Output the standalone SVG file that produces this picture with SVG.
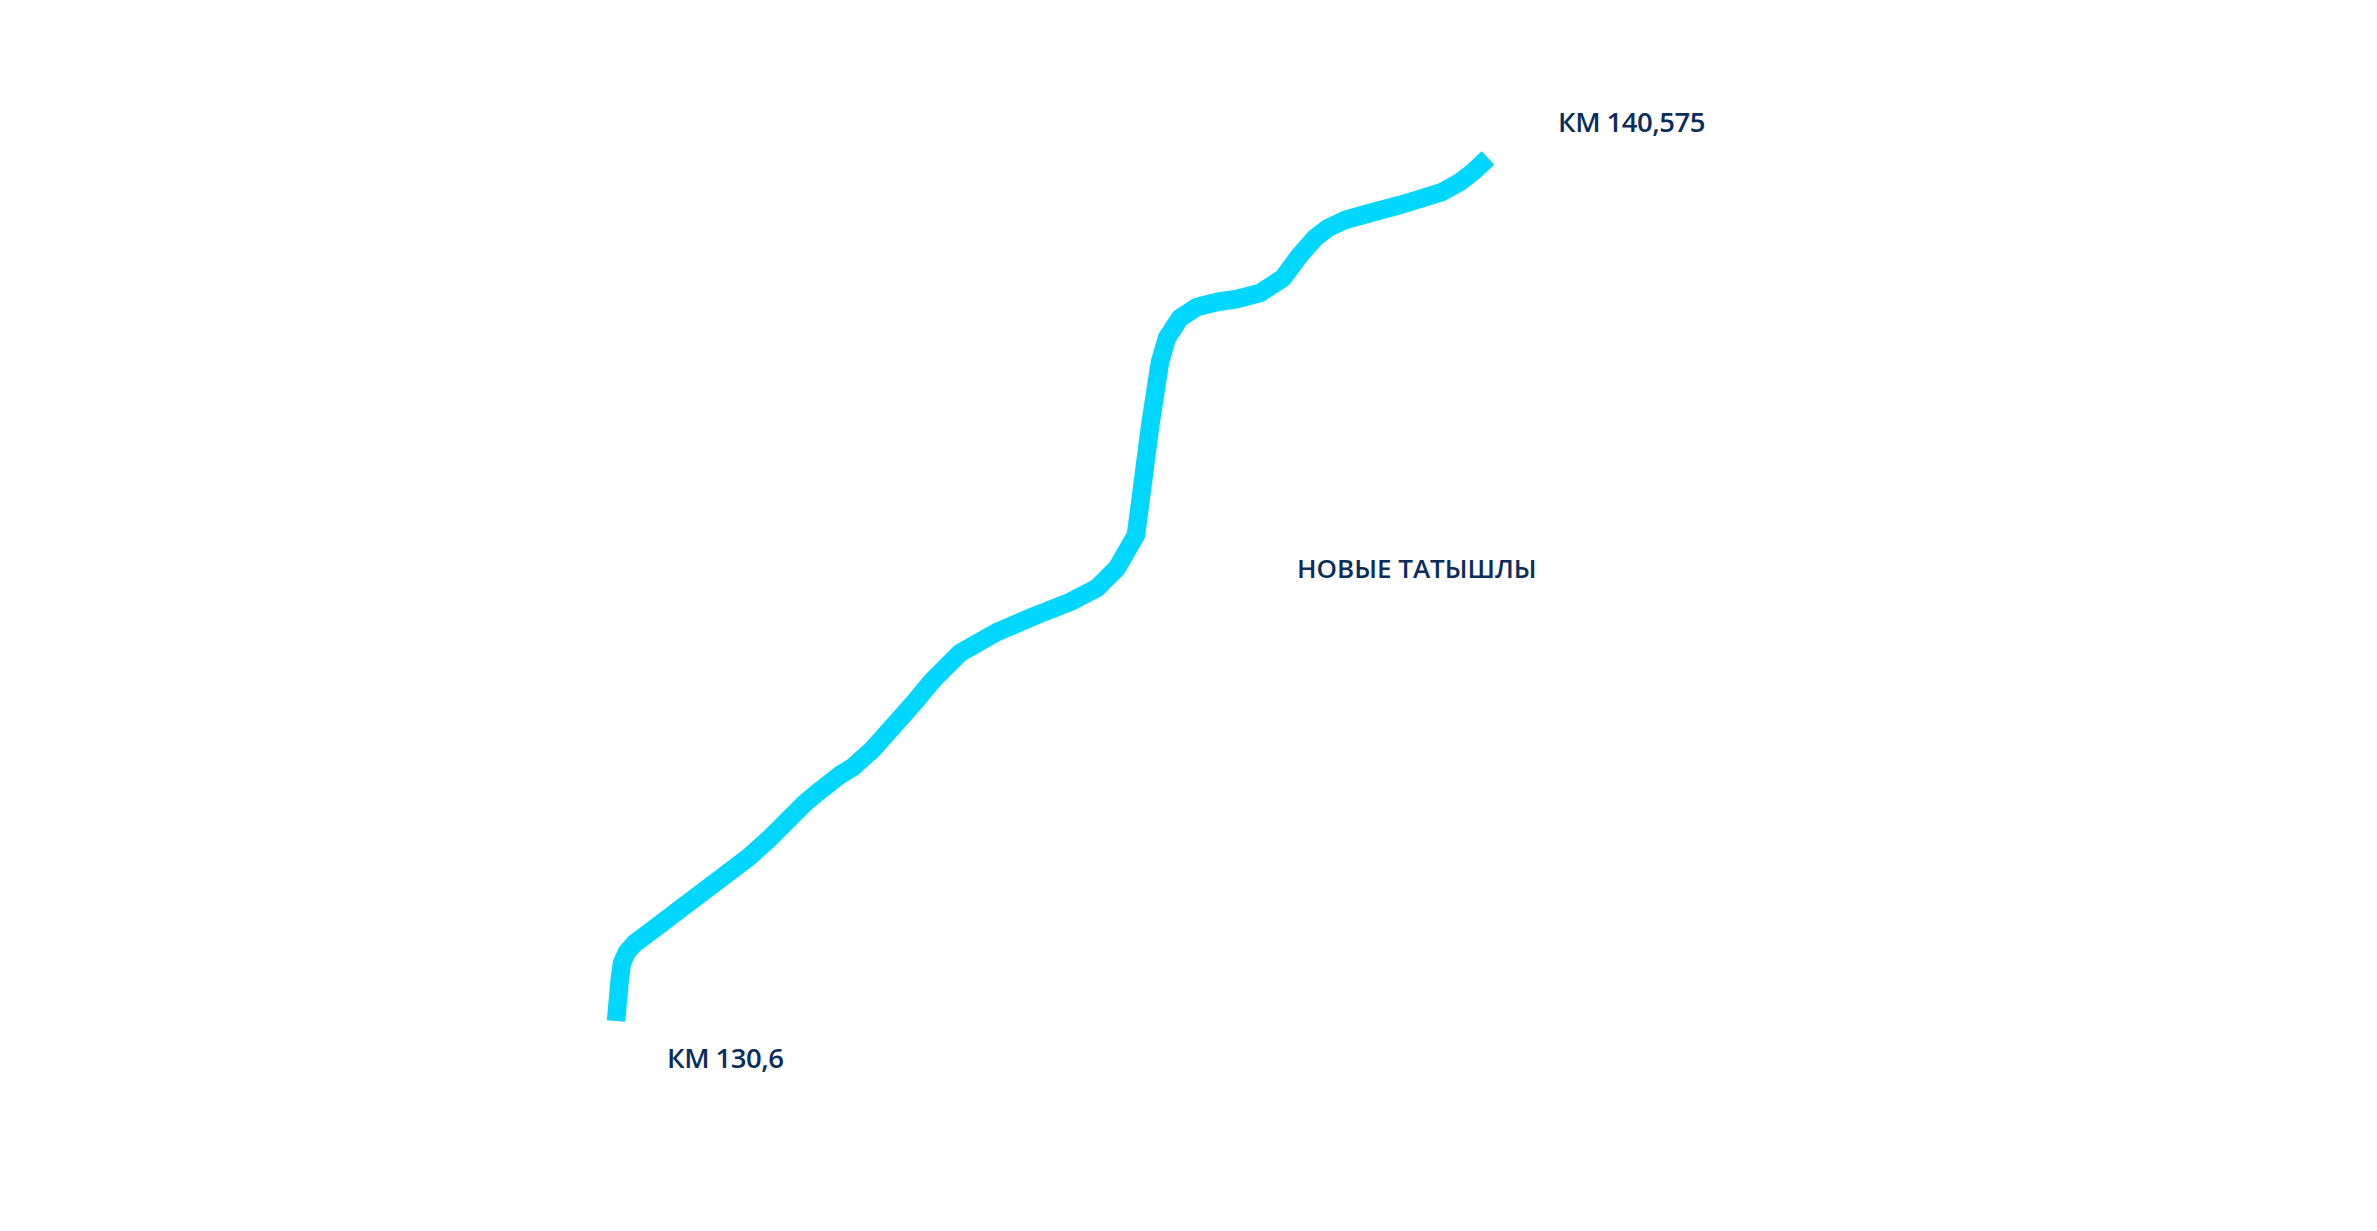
<svg xmlns="http://www.w3.org/2000/svg" width="2377" height="1231" viewBox="0 0 2377 1231">
<style>
.route{fill:none;stroke:#00d7ff;stroke-width:18.5;stroke-linejoin:round;stroke-linecap:butt}
.lbl{font-family:"Open Sans","Noto Sans","Liberation Sans",sans-serif;font-weight:600;fill:#0b2d5b}
.km{font-size:27.5px;letter-spacing:-0.5px}
.town{font-size:26px}
</style>
<rect width="2377" height="1231" fill="#ffffff"/>
<g id="connectors">
<polyline class="route" points="616,1021 620,977 622,963 627,952 634,944 749,857 769,839 805,803 817,793 840,775 853,767 872,750 913,704 933,680 960,653 997,632 1037,615 1070,602 1097,588 1117,568 1136,535 1150,427 1160,362 1167,338 1180,318 1197,307 1217,302 1237,299 1260,293 1283,278 1300,255 1315,238 1328,228 1345,220 1370,213 1400,205 1423,198 1442,192 1460,182 1473,172 1488,158"/>
</g>
<g id="km-end"><text class="lbl km" x="1558" y="132">КМ 140,575</text></g>
<g id="km-start"><text class="lbl km" x="667" y="1068">КМ 130,6</text></g>
<g id="town"><text class="lbl town" x="1297" y="578">НОВЫЕ ТАТЫШЛЫ</text></g>
</svg>
